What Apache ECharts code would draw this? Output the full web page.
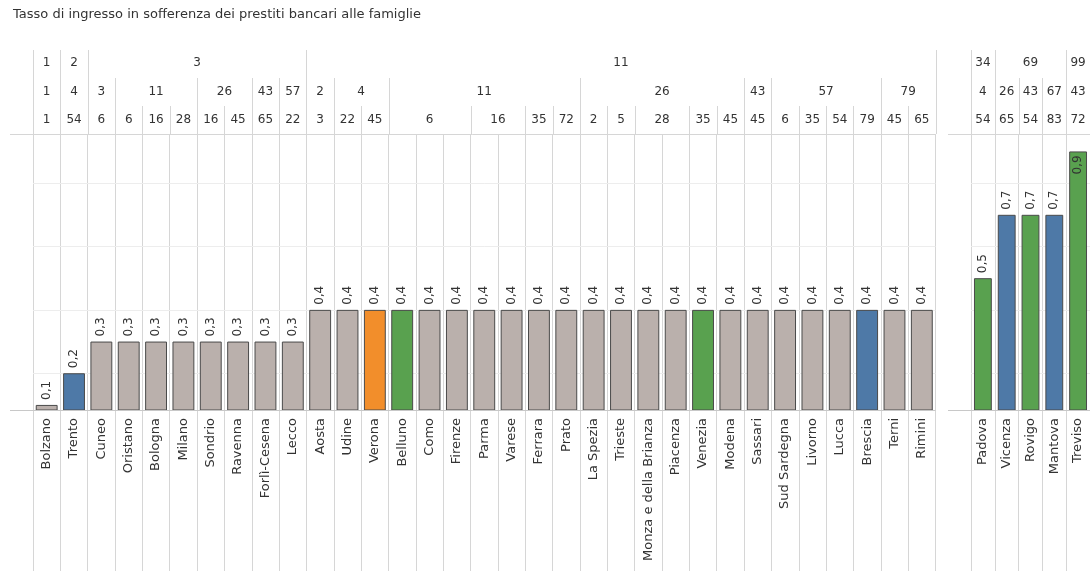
<!DOCTYPE html>
<html><head><meta charset="utf-8">
<script src="https://cdn.jsdelivr.net/npm/echarts@6/dist/echarts.min.js"></script>
<style>html,body{margin:0;padding:0;background:#fff}#c{width:1090px;height:571px}</style>
</head><body><div id="c"></div>
<script>
// ---------- data ----------
const chartTitle = 'Tasso di ingresso in sofferenza dei prestiti bancari alle famiglie';

const leftCities = ['Bolzano','Trento','Cuneo','Oristano','Bologna','Milano','Sondrio','Ravenna','Forlì-Cesena','Lecco',
  'Aosta','Udine','Verona','Belluno','Como','Firenze','Parma','Varese','Ferrara','Prato','La Spezia','Trieste',
  'Monza e della Brianza','Piacenza','Venezia','Modena','Sassari','Sud Sardegna','Livorno','Lucca','Brescia','Terni','Rimini'];
const leftValues = [0.1,0.2,0.3,0.3,0.3,0.3,0.3,0.3,0.3,0.3,
  0.4,0.4,0.4,0.4,0.4,0.4,0.4,0.4,0.4,0.4,0.4,0.4,0.4,0.4,0.4,0.4,0.4,0.4,0.4,0.4,0.4,0.4,0.4];
const leftGroups = ['grey','blue','grey','grey','grey','grey','grey','grey','grey','grey',
  'grey','grey','orange','green','grey','grey','grey','grey','grey','grey','grey','grey',
  'grey','grey','green','grey','grey','grey','grey','grey','blue','grey','grey'];

const rightCities = ['Padova','Vicenza','Rovigo','Mantova','Treviso'];
const rightValues = [0.5,0.7,0.7,0.7,0.9];
const rightGroups = ['green','blue','green','blue','green'];

// header levels: [label, number of columns spanned]
const leftLevel1 = [['1',1],['2',1],['3',8],['11',23]];
const leftLevel2 = [['1',1],['4',1],['3',1],['11',3],['26',2],['43',1],['57',1],
  ['2',1],['4',2],['11',7],['26',6],['43',1],['57',4],['79',2]];
const leftLevel3 = [['1',1],['54',1],['6',1],['6',1],['16',1],['28',1],['16',1],['45',1],['65',1],['22',1],
  ['3',1],['22',1],['45',1],['6',3],['16',2],['35',1],['72',1],['2',1],['5',1],['28',2],['35',1],['45',1],
  ['45',1],['6',1],['35',1],['54',1],['79',1],['45',1],['65',1]];

const rightLevel1 = [['34',1],['69',3],['99',1]];
const rightLevel2 = [['4',1],['26',1],['43',1],['67',1],['43',1]];
const rightLevel3 = [['54',1],['65',1],['54',1],['83',1],['72',1]];

const gridValues = [0.2,0.4,0.6,0.8];

// ---------- styling ----------
const FONT = 'DejaVu Sans';
const COLORS = {grey:'#bab0ac', blue:'#4e79a7', orange:'#f28e2b', green:'#59a14f'};
const LINE = '#d6d6d6';
const TEXT = '#333333';
const Y_MIN = 0.084, Y_MAX = 0.955;
// header offsets relative to grid top
const LEVEL_TOP = [-84, -56, -28, 0];
const LEVEL_TEXT = [-71, -42, -14];

function buildCells(levels) {
  const cells = [];
  levels.forEach((lv, li) => {
    let pos = 0;
    lv.forEach(([lab, span]) => {
      cells.push({value:[pos, pos + span - 1, li], label: lab});
      pos += span;
    });
  });
  return cells;
}

function headerSeries(gridIdx, cells, extLeft) {
  return {
    type:'custom', xAxisIndex:gridIdx, yAxisIndex:gridIdx, z:10, silent:true,
    data: cells.map(c => ({value:c.value, name:c.label})),
    renderItem: function(params, api) {
      const cs = params.coordSys;
      const s = api.value(0), e = api.value(1), lv = api.value(2);
      const bw = api.size([1, 0])[0];
      const x0 = api.coord([s, Y_MAX])[0] - bw/2;
      const x1 = api.coord([e, Y_MAX])[0] + bw/2;
      const top = cs.y;
      const px = v => Math.round(v) + 0.5;
      const children = [];
      children.push({type:'text', style:{text: cells[params.dataIndex].label,
        x:(x0+x1)/2, y: top + LEVEL_TEXT[lv], align:'center', verticalAlign:'middle',
        fontSize:12, fontFamily:FONT, fill:TEXT}});
      const y1 = top + LEVEL_TOP[lv], y2 = top + LEVEL_TOP[lv+1];
      children.push({type:'line', shape:{x1:px(x1), y1:y1, x2:px(x1), y2:y2}, style:{stroke:LINE, lineWidth:1}});
      if (s === 0) {
        children.push({type:'line', shape:{x1:px(x0), y1:y1, x2:px(x0), y2:y2}, style:{stroke:LINE, lineWidth:1}});
      }
      if (params.dataIndex === 0) {
        const gx0 = cs.x - extLeft, gx1 = cs.x + cs.width;
        children.push({type:'line', shape:{x1:gx0, y1:px(top), x2:gx1, y2:px(top)}, style:{stroke:LINE, lineWidth:1}});
        const by = px(cs.y + cs.height);
        children.push({type:'line', shape:{x1:gx0, y1:by, x2:gx1, y2:by}, style:{stroke:'#c8c8c8', lineWidth:1}});
      }
      return {type:'group', children};
    }
  };
}

function fmt(v) { return v.toFixed(1).replace('.', ','); }

function barSeries(gridIdx, values, groups, width) {
  return {
    type:'bar', xAxisIndex:gridIdx, yAxisIndex:gridIdx, barWidth:width, z:2,
    data: values.map((v, i) => {
      const d = {value:v, itemStyle:{color:COLORS[groups[i]]}};
      if (v > 0.85) {
        d.label = {position:'insideTop', align:'right', distance:4};
      }
      return d;
    }),
    itemStyle:{borderColor:'#4a4a4a', borderWidth:1},
    label:{show:true, position:'top', rotate:90, align:'left', verticalAlign:'middle', distance:5,
      fontSize:12, fontFamily:FONT, color:TEXT, formatter: p => fmt(p.value)},
    markLine:{silent:true, z:1, symbol:['none','none'], label:{show:false},
      lineStyle:{color:'#ededed', type:'solid', width:1},
      data: gridValues.map(v => ({yAxis:v}))}
  };
}

function xAxis(gridIdx, cats) {
  return {gridIndex:gridIdx, type:'category', data:cats, position:'bottom',
    axisLine:{show:false},
    axisTick:{show:true, interval:0, length:161, alignWithLabel:false, lineStyle:{color:LINE}},
    axisLabel:{interval:0, rotate:90, margin:8, fontSize:13, fontFamily:FONT, color:TEXT},
    splitLine:{show:true, interval:0, lineStyle:{color:LINE}}};
}
function yAxis(gridIdx) {
  return {gridIndex:gridIdx, type:'value', min:Y_MIN, max:Y_MAX, show:false, splitLine:{show:false}};
}

const chart = echarts.init(document.getElementById('c'));
chart.setOption({
  animation:false,
  backgroundColor:'#ffffff',
  title:{text:chartTitle, left:13, top:8, padding:0,
    textStyle:{fontSize:13, fontWeight:'normal', fontFamily:FONT, color:TEXT}},
  grid:[
    {left:33, top:134, width:902.5, height:276},
    {left:971, top:134, width:122.5, height:276}
  ],
  xAxis:[xAxis(0, leftCities), xAxis(1, rightCities)],
  yAxis:[yAxis(0), yAxis(1)],
  series:[
    barSeries(0, leftValues, leftGroups, '80%'),
    barSeries(1, rightValues, rightGroups, '75%'),
    headerSeries(0, buildCells([leftLevel1, leftLevel2, leftLevel3]), 23),
    headerSeries(1, buildCells([rightLevel1, rightLevel2, rightLevel3]), 23)
  ]
});
</script></body></html>
